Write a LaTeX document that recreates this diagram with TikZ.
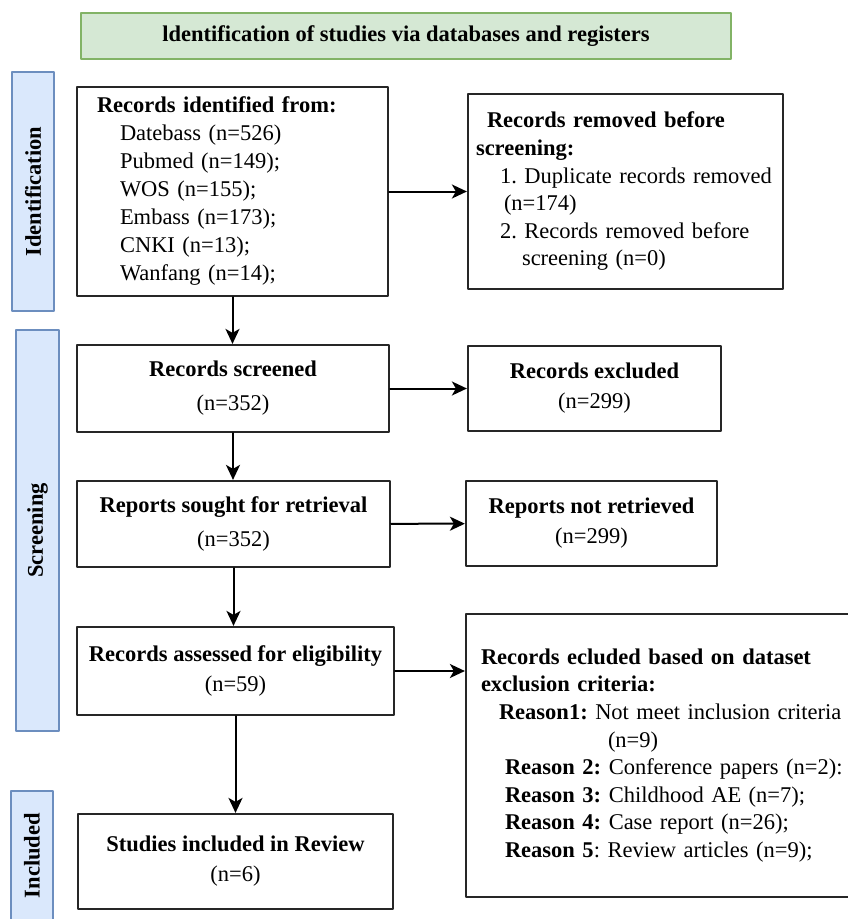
\documentclass[tikz,border=0pt]{standalone}
\usepackage{fontspec}
\setmainfont{Liberation Serif}
\usetikzlibrary{arrows.meta}
\definecolor{titlefill}{HTML}{D5E8D4}
\definecolor{titleline}{HTML}{82B366}
\definecolor{phasefill}{HTML}{DAE8FC}
\definecolor{phaseline}{HTML}{6C8EBF}

\begin{document}
\fontsize{22.5}{28}\selectfont\frenchspacing\hyphenpenalty=10000
\begin{tikzpicture}[x=1pt, y=-1pt, line cap=round, line join=round,
		box/.style={draw=black!85, line width=2.2pt, align=center, inner sep=0pt},
		lbox/.style={draw=black!85, line width=2.2pt, align=left, inner ysep=0pt},
		phase/.style={draw=phaseline, fill=phasefill, line width=1.5pt, rotate=90, font=\bfseries, inner sep=0pt},
		headbox/.style={draw=titleline, fill=titlefill, line width=1.5pt, font=\bfseries, inner sep=0pt},
		arr/.style={-{Stealth[length=15pt,width=14pt,inset=4pt]}, line width=2pt}]
			\clip (0,0) rectangle (848,919);
			\fill[white] (0,0) rectangle (848,919);
			
			% Header
			\node[headbox, minimum width=650pt, minimum height=46pt] (head) at (406,36) {ldentification of studies via databases and registers};
			
			% Phase labels
			\node[phase, minimum width=239pt, minimum height=42pt] (idlab) at (33,191.5) {Identification};
			\node[phase, minimum width=401pt, minimum height=43pt] (scrlab) at (37.5,530.5) {Screening};
			\node[phase, minimum width=129pt, minimum height=42pt] (inclab) at (32,855.5) {Included};
			
			% Identification
			\node[lbox, minimum height=209pt, text width=271pt, inner xsep=20pt] (ident) at (232.5,191.5) {\textbf{Records identified from:}\\
				\hspace*{23pt}Datebass (n=526)\\
				\hspace*{23pt}Pubmed (n=149);\\
				\hspace*{23pt}WOS (n=155);\\
				\hspace*{23pt}Embass (n=173);\\
				\hspace*{23pt}CNKI (n=13);\\
				\hspace*{23pt}Wanfang (n=14);};
			\node[lbox, minimum height=195pt, text width=299pt, inner xsep=8pt, font=\fontsize{22.5}{27.6}\selectfont] (removed) at (625.5,191.5) {\hspace*{11pt}\textbf{Records removed before}\\
				\textbf{screening:}\\
				\hspace*{24pt}1. Duplicate records removed\\
				\hspace*{28pt}(n=174)\\
				\hspace*{24pt}2. Records removed before\\
				\hspace*{46pt}screening (n=0)};
			
			% Screening
			\node[box, minimum width=312pt, minimum height=87pt] (screened) at (233,388.5) {\textbf{Records screened}\\[6pt](n=352)};
			\node[box, minimum width=253pt, minimum height=85pt] (excluded) at (594.5,388.5) {\textbf{Records excluded}\\[2pt](n=299)};
			\node[box, minimum width=313pt, minimum height=86pt] (sought) at (233.5,524) {\textbf{Reports sought for retrieval}\\[6pt](n=352)};
			\node[box, minimum width=251pt, minimum height=85pt] (notret) at (591.5,523.5) {\textbf{Reports not retrieved}\\[2pt](n=299)};
			\node[box, minimum width=317pt, minimum height=88pt] (assessed) at (235.5,671) {\textbf{Records assessed for eligibility}\\[2pt](n=59)};
			\node[lbox, minimum height=283pt, text width=374pt, inner xsep=15pt, font=\fontsize{22.5}{27.6}\selectfont] (excl) at (668,755.5) {\textbf{Records ecluded based on dataset}\\
				\textbf{exclusion criteria:}\\
				\hspace*{18pt}\textbf{Reason1:} Not meet inclusion criteria\\
				\hspace*{127pt}(n=9)\\
				\hspace*{24pt}\textbf{Reason 2:} Conference papers (n=2):\\
				\hspace*{24pt}\textbf{Reason 3:} Childhood AE (n=7);\\
				\hspace*{24pt}\textbf{Reason 4:} Case report (n=26);\\
				\hspace*{24pt}\textbf{Reason 5}: Review articles (n=9);};
			
			% Included
			\node[box, minimum width=315pt, minimum height=95pt] (studies) at (235.5,861.5) {\textbf{Studies included in Review}\\[2pt](n=6)};
			
			% Arrows
			\draw[arr] (ident) -- (removed);
			\draw[arr] (ident.south) -- (ident.south |- screened.north);
			\draw[arr] (screened) -- (excluded);
			\draw[arr] (screened.south) -- (screened.south |- sought.north);
			\draw[arr] (sought) -- (notret);
			\draw[arr] (sought.south) -- (sought.south |- assessed.north);
			\draw[arr] (assessed.east) -- (assessed.east -| excl.west);
			\draw[arr] (assessed.south) -- (studies.north);
		\end{tikzpicture}
\end{document}
